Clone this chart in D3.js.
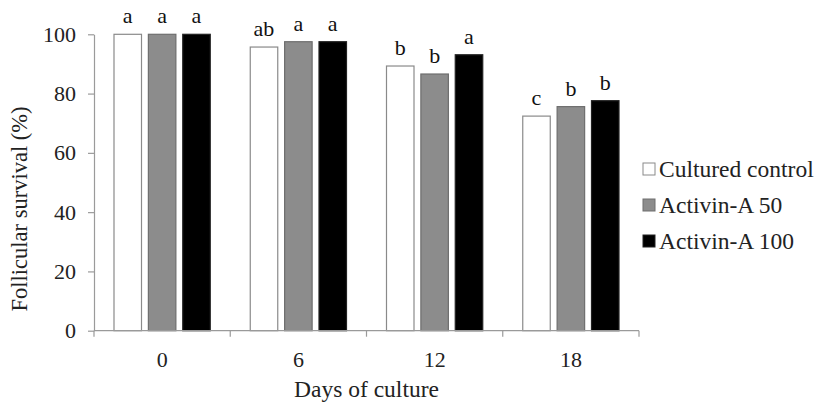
<!DOCTYPE html>
<html><head><meta charset="utf-8">
<script src="https://cdn.jsdelivr.net/npm/d3@7"></script>
<style>html,body{margin:0;padding:0;background:#fff;}</style>
</head><body>
<svg id="c" width="815" height="406"></svg>
<script>
const categories = ["0", "6", "12", "18"];
const seriesNames = ["Cultured control", "Activin-A 50", "Activin-A 100"];
const culturedControl = [100, 95.7, 89.3, 72.4];
const activin50 = [100, 97.5, 86.6, 75.6];
const activin100 = [100, 97.5, 93.1, 77.6];
const letters = [["a","a","a"], ["ab","a","a"], ["b","b","a"], ["c","b","b"]];
const yTicks = [0, 20, 40, 60, 80, 100];
const xTitle = "Days of culture";
const yTitle = "Follicular survival (%)";

(function () {
const series = [culturedControl, activin50, activin100];
const fills = ["#ffffff", "#8c8c8c", "#000000"];
const strokes = ["#8a8a8a", "#6e6e6e", "#222222"];
const font = "Liberation Serif, Times New Roman, serif";
const axisColor = "#9a9a9a";

const svg = d3.select("#c");
const pLeft = 94, pRight = 639, pTop = 34.3, pBottom = 330.7;

const x0 = d3.scaleBand().domain(categories).range([pLeft, pRight]).paddingInner(0).paddingOuter(0);
const innerPad = 20;
const x1 = d3.scaleBand().domain(d3.range(3)).range([innerPad, x0.bandwidth() - innerPad]).paddingInner(0.2).paddingOuter(0);
const y = d3.scaleLinear().domain([0, 100]).range([pBottom, pTop]);

const g = svg.append("g");
categories.forEach((c, i) => {
  series.forEach((s, j) => {
    g.append("rect")
      .attr("x", x0(c) + x1(j))
      .attr("y", y(s[i]))
      .attr("width", x1.bandwidth())
      .attr("height", y(0) - y(s[i]))
      .attr("fill", fills[j])
      .attr("stroke", strokes[j])
      .attr("stroke-width", 1.2);
    g.append("text")
      .attr("x", x0(c) + x1(j) + x1.bandwidth() / 2)
      .attr("y", y(s[i]) - 11)
      .attr("text-anchor", "middle")
      .style("font-family", font)
      .style("font-size", "22px")
      .attr("fill", "#111")
      .text(letters[i][j]);
  });
});

const yAxis = d3.axisLeft(y).tickValues(yTicks).tickSize(6).tickPadding(12).tickSizeOuter(0);
const ya = svg.append("g").attr("transform", `translate(${pLeft},0)`).call(yAxis);
ya.attr("font-family", null).attr("font-size", null);
ya.select(".domain").attr("stroke", axisColor).attr("stroke-width", 1.2);
ya.selectAll(".tick line").attr("stroke", axisColor).attr("stroke-width", 1.2);
ya.selectAll(".tick text").style("font-family", font).style("font-size", "22px").attr("fill", "#222");

const xa = svg.append("g").attr("transform", `translate(0,${pBottom})`);
xa.append("line").attr("x1", pLeft).attr("x2", pRight).attr("y1", 0).attr("y2", 0)
  .attr("stroke", axisColor).attr("stroke-width", 1.2);
const bounds = categories.map(c => x0(c)).concat([pRight]);
xa.selectAll("line.b").data(bounds).enter().append("line").attr("class", "b")
  .attr("x1", d => d).attr("x2", d => d).attr("y1", 0).attr("y2", 6)
  .attr("stroke", axisColor).attr("stroke-width", 1.2);
xa.selectAll("text").data(categories).enter().append("text")
  .attr("x", d => x0(d) + x0.bandwidth() / 2)
  .attr("y", 36)
  .attr("text-anchor", "middle")
  .style("font-family", font).style("font-size", "22px").attr("fill", "#222")
  .text(d => d);

svg.append("text").attr("x", (pLeft + pRight) / 2).attr("y", 397)
  .attr("text-anchor", "middle").style("font-family", font).style("font-size", "23.5px").attr("fill", "#222")
  .text(xTitle);
svg.append("text").attr("transform", `translate(27,209) rotate(-90)`)
  .attr("text-anchor", "middle").style("font-family", font).style("font-size", "22.5px").attr("fill", "#222")
  .text(yTitle);

const legendY = [169, 205, 241];
seriesNames.forEach((n, j) => {
  svg.append("rect").attr("x", 643).attr("y", legendY[j] - 6).attr("width", 12).attr("height", 12)
    .attr("fill", fills[j]).attr("stroke", strokes[j]).attr("stroke-width", 1);
  svg.append("text").attr("x", 659).attr("y", legendY[j] + 8)
    .style("font-family", font).style("font-size", "23.5px").attr("fill", "#222")
    .text(n);
});
})();
</script>
</body></html>
